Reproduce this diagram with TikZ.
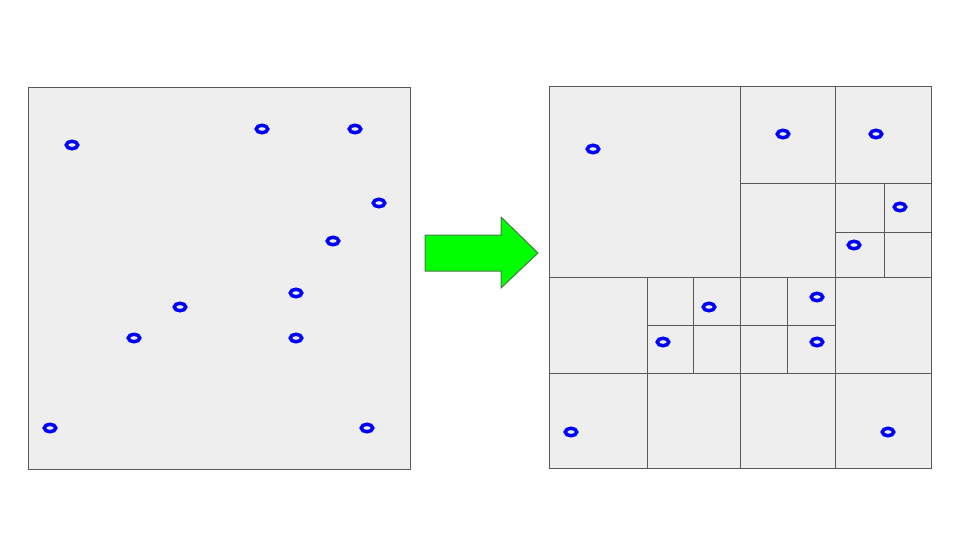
\documentclass[tikz,border=0pt]{standalone}
\usepackage{xcolor}
\usepackage{tikz}
\usetikzlibrary{
    shapes.geometric
}

\definecolor{panelgray}{HTML}{EEEEEE}
\definecolor{linegray}{HTML}{595959}
\definecolor{brightgreen}{HTML}{00FF00}

\begin{document}
\begin{tikzpicture}[
    x=0.75pt, y=-0.75pt,
    panel/.style={
        fill=panelgray,
        draw=linegray,
        line width=0.75pt
    },
    split/.style={
        draw=linegray,
        line width=0.75pt
    },
    pt/.style={
        ellipse,
        draw=blue,
        line width=2.6pt,
        inner sep=0pt,
        minimum width=8.6pt,
        minimum height=5.6pt
    },
    bigarrow/.style={
        fill=brightgreen,
        draw=linegray!80!green,
        line width=0.75pt
    }
]

\useasboundingbox (0,0) rectangle (960,540);

% left panel: the points
\draw[panel] (28,87) rectangle (410,469);
\node[pt] (a1) at (72,145) {};
\node[pt] (a2) at (262,129) {};
\node[pt] (a3) at (355,129) {};
\node[pt] (a4) at (379,203) {};
\node[pt] (a5) at (333,241) {};
\node[pt] (a6) at (296,293) {};
\node[pt] (a7) at (180,307) {};
\node[pt] (a8) at (134,338) {};
\node[pt] (a9) at (296,338) {};
\node[pt] (a10) at (50,428) {};
\node[pt] (a11) at (367,428) {};

% arrow
\draw[bigarrow] (425,235) -- (501,235) -- (501,217) -- (538,253)
    -- (501,288) -- (501,271) -- (425,271) -- cycle;

% right panel: the quadtree
\draw[panel] (549,86) rectangle (931,468);
\draw[split] (549,277) -- (931,277);
\draw[split] (740,86) -- (740,468);
\draw[split] (835,86) -- (835,468);
\draw[split] (740,183) -- (931,183);
\draw[split] (835,232) -- (931,232);
\draw[split] (884,183) -- (884,277);
\draw[split] (549,373) -- (931,373);
\draw[split] (647,277) -- (647,468);
\draw[split] (647,325) -- (835,325);
\draw[split] (693,277) -- (693,373);
\draw[split] (787,277) -- (787,373);

\node[pt] (b1) at (593,149) {};
\node[pt] (b2) at (783,134) {};
\node[pt] (b3) at (876,134) {};
\node[pt] (b4) at (900,207) {};
\node[pt] (b5) at (854,245) {};
\node[pt] (b6) at (817,297) {};
\node[pt] (b7) at (709,307) {};
\node[pt] (b8) at (663,342) {};
\node[pt] (b9) at (817,342) {};
\node[pt] (b10) at (571,432) {};
\node[pt] (b11) at (888,432) {};

\end{tikzpicture}
\end{document}
